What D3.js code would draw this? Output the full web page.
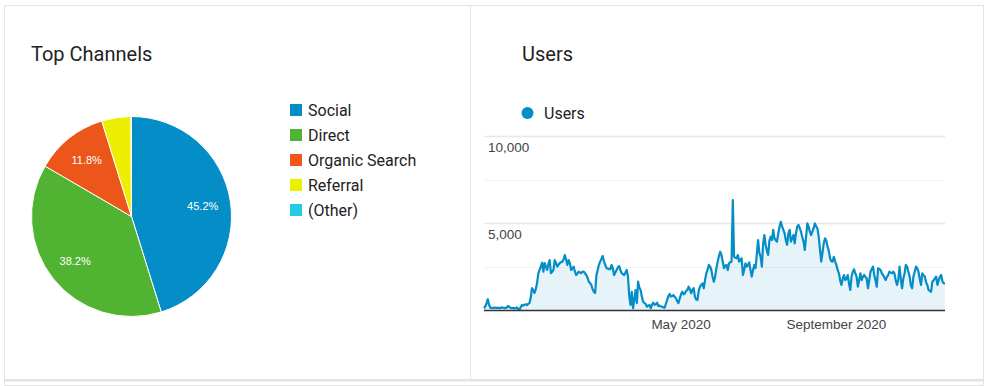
<!DOCTYPE html>
<html>
<head>
  <meta charset="utf-8">
  <title>Top Channels / Users</title>
  <script src="https://cdn.jsdelivr.net/npm/d3@7"></script>
  <style>
    body { margin: 0; background: #fff; }
  </style>
</head>
<body>
<svg id="board"></svg>
<script>
// channel shares, percent
var channels = ["Social", "Direct", "Organic Search", "Referral", "(Other)"];
var shares = [45.2, 38.2, 11.8, 4.7, 0.1];
var channelColors = ["#058DC7", "#50B432", "#ED561B", "#EDEF00", "#24CBE5"];

// daily users, first day below
var startDay = "2019-11-27";
var users = [
  100, 200, 400, 620, 300, 130, 120, 130, 110, 140, 120, 130, 110, 120, 150, 130, 120, 110, 140, 230,
  180, 120, 100, 130, 90, 110, 150, 60, 20, 150, 290, 250, 300, 330, 280, 350, 400, 700, 1260, 1150,
  980, 1200, 1550, 2100, 2300, 2500, 2720, 2200, 2700, 2500, 2300, 2650, 2870, 2120, 2200, 2300, 2870, 2700, 2490, 2600,
  2700, 2750, 2780, 2900, 3160, 2900, 2590, 2870, 2700, 2300, 2400, 2490, 2200, 2010, 2100, 2200, 2150, 2120, 2200, 2200,
  2100, 2010, 1850, 1630, 1550, 1440, 1200, 1050, 980, 2000, 2300, 2600, 2780, 2950, 3100, 2780, 2600, 2400, 2380, 2350,
  2350, 2590, 2400, 2010, 2150, 2300, 2450, 2530, 2300, 2120, 2050, 2010, 2150, 2300, 1920, 800, 290, 1050, 100, 600,
  1150, 400, 1630, 1300, 1150, 770, 480, 400, 350, 190, 250, 290, 100, 300, 420, 300, 320, 420, 230, 250,
  200, 190, 150, 130, 350, 575, 800, 920, 770, 800, 860, 750, 670, 500, 400, 670, 900, 1050, 900, 950,
  1100, 1150, 1340, 1200, 960, 1150, 1250, 770, 600, 575, 1100, 1340, 1450, 1530, 1250, 1720, 2100, 2300, 2590, 2500,
  2300, 1900, 1630, 1920, 2400, 2780, 3100, 3350, 3160, 2800, 2400, 2550, 2590, 2300, 2680, 2750, 2780, 6320, 3060, 3000,
  2970, 3160, 2780, 2900, 2970, 2010, 2300, 2680, 2490, 2600, 2730, 2300, 1920, 2300, 2590, 2400, 3200, 4020, 3300, 3060,
  2490, 3800, 4310, 3740, 3400, 3160, 4000, 4210, 4020, 4600, 4120, 4000, 3930, 4410, 4800, 5070, 4800, 4600, 4410, 4000,
  3740, 4400, 4600, 3930, 4100, 4310, 3830, 4400, 4790, 4890, 4700, 4500, 4200, 3930, 3450, 4200, 4980, 4790, 4500, 4310,
  4500, 4700, 4980, 4800, 4690, 4210, 3500, 2780, 3300, 3830, 4120, 4000, 3640, 3400, 2970, 2800, 2780, 3060, 2800, 2590,
  2300, 2110, 1700, 1440, 1800, 2010, 1720, 1800, 2010, 1500, 1150, 1920, 2200, 2340, 2100, 1920, 1340, 1700, 2110, 1720,
  1900, 2010, 1900, 1820, 1250, 1700, 2200, 2350, 2490, 2010, 1700, 1340, 2400, 2350, 2300, 2100, 2010, 1850, 1720, 1900,
  2010, 2200, 2150, 2110, 2200, 2100, 1700, 1440, 1720, 2490, 1800, 1250, 1820, 2100, 2590, 2490, 2200, 1920, 1400, 1250,
  1920, 2200, 2490, 2400, 2200, 1800, 1440, 2110, 2000, 1920, 1600, 1440, 1150, 1100, 1050, 1630, 1700, 1820, 1920, 1440,
  1700, 1920, 2010, 1630, 1530, 1530
];
var yTicks = [0, 2500, 5000, 7500, 10000];
var yLabelTicks = [5000, 10000];
var monthTicks = ["2020-05-01", "2020-09-01"];

var W = 988, H = 386;
var svg = d3.select("#board").attr("width", W).attr("height", H);
var uiFont = "Roboto, 'Noto Sans', sans-serif";
var axisFont = "Arial, 'Liberation Sans', sans-serif";

// card borders
var borderCol = "#e5e5e5";
svg.append("rect").attr("x", 4.5).attr("y", 5.5).attr("width", 979).attr("height", 380)
   .attr("fill", "none").attr("stroke", borderCol);
svg.append("line").attr("x1", 470.5).attr("x2", 470.5).attr("y1", 5).attr("y2", 379)
   .attr("stroke", borderCol);
svg.append("rect").attr("x", 4).attr("y", 379).attr("width", 980).attr("height", 2.5)
   .attr("fill", "#e3e3e3");

// titles
svg.append("text").attr("x", 31).attr("y", 61).text("Top Channels")
   .attr("font-family", uiFont).attr("font-size", 20).attr("fill", "#222");
svg.append("text").attr("x", 522).attr("y", 61).text("Users")
   .attr("font-family", uiFont).attr("font-size", 20).attr("fill", "#222");

// ---- pie ----
var R = 100;
var pieG = svg.append("g").attr("transform", "translate(131.5,216.5)");
var pie = d3.pie().sort(null).value(function(d) { return d; });
var arcs = pie(shares);
var arc = d3.arc().innerRadius(0).outerRadius(R);
var labelArc = d3.arc().innerRadius(R * 0.72).outerRadius(R * 0.72);

pieG.selectAll("path.slice").data(arcs).enter().append("path")
    .attr("class", "slice")
    .attr("d", arc)
    .attr("fill", function(d, i) { return channelColors[i]; })
    .attr("stroke", "#fff").attr("stroke-width", 1);

pieG.selectAll("text.pct").data(arcs.filter(function(d) { return d.data >= 8; }))
    .enter().append("text")
    .attr("class", "pct")
    .attr("transform", function(d) { return "translate(" + labelArc.centroid(d) + ")"; })
    .attr("text-anchor", "middle").attr("dy", "0.35em")
    .attr("font-family", axisFont).attr("font-size", 11).attr("fill", "#fff")
    .text(function(d) { return d.data.toFixed(1) + "%"; });

// legend
var leg = svg.append("g").attr("transform", "translate(290,104)");
var rows = leg.selectAll("g").data(channels).enter().append("g")
    .attr("transform", function(d, i) { return "translate(0," + (i * 25) + ")"; });
rows.append("rect").attr("width", 12).attr("height", 12)
    .attr("fill", function(d, i) { return channelColors[i]; });
rows.append("text").attr("x", 18).attr("y", 6).attr("dy", "0.35em")
    .attr("font-family", uiFont).attr("font-size", 16).attr("fill", "#222")
    .text(function(d) { return d; });

// ---- users line ----
var parseDay = d3.timeParse("%Y-%m-%d");
var day0 = parseDay(startDay);
var series = users.map(function(v, i) { return { date: d3.timeDay.offset(day0, i), value: v }; });

var x = d3.scaleTime()
    .domain([series[0].date, series[series.length - 1].date])
    .range([484, 945]);
var y = d3.scaleLinear().domain([0, 10000]).range([310, 136]);

var chart = svg.append("g");
chart.selectAll("line.grid").data(yTicks.slice(1)).enter().append("line")
    .attr("class", "grid")
    .attr("x1", 484).attr("x2", 945)
    .attr("y1", function(d) { return Math.round(y(d)) + 0.5; })
    .attr("y2", function(d) { return Math.round(y(d)) + 0.5; })
    .attr("stroke", function(d) { return yLabelTicks.indexOf(d) >= 0 ? "#e8e8e8" : "#f3f3f3"; })
    .attr("stroke-width", function(d) { return yLabelTicks.indexOf(d) >= 0 ? 1.5 : 1; });

chart.append("path").datum(series)
    .attr("d", d3.area().x(function(d) { return x(d.date); })
        .y0(y(0)).y1(function(d) { return y(d.value); }))
    .attr("fill", "#058DC7").attr("fill-opacity", 0.1);

chart.append("path").datum(series)
    .attr("d", d3.line().x(function(d) { return x(d.date); })
        .y(function(d) { return y(d.value); }))
    .attr("fill", "none").attr("stroke", "#058DC7")
    .attr("stroke-width", 2.2).attr("stroke-linejoin", "round");

chart.append("line").attr("x1", 484).attr("x2", 945)
    .attr("y1", y(0) + 0.5).attr("y2", y(0) + 0.5)
    .attr("stroke", "#333").attr("stroke-width", 1.5);

chart.selectAll("text.ylab").data(yLabelTicks).enter().append("text")
    .attr("class", "ylab")
    .attr("x", 488).attr("y", function(d) { return y(d) + 16; })
    .attr("font-family", axisFont).attr("font-size", 13.5).attr("fill", "#444")
    .text(function(d) { return d3.format(",")(d); });

var fmtMonth = d3.timeFormat("%B %Y");
chart.selectAll("text.xlab").data(monthTicks.map(parseDay)).enter().append("text")
    .attr("class", "xlab")
    .attr("x", function(d) { return x(d); }).attr("y", 329)
    .attr("text-anchor", "middle")
    .attr("font-family", axisFont).attr("font-size", 13.5).attr("fill", "#444")
    .text(function(d) { return fmtMonth(d); });

// series legend
svg.append("circle").attr("cx", 527.5).attr("cy", 113).attr("r", 6).attr("fill", "#058DC7");
svg.append("text").attr("x", 544).attr("y", 113).attr("dy", "0.35em")
   .attr("font-family", uiFont).attr("font-size", 16).attr("fill", "#222")
   .text("Users");
</script>
</body>
</html>
